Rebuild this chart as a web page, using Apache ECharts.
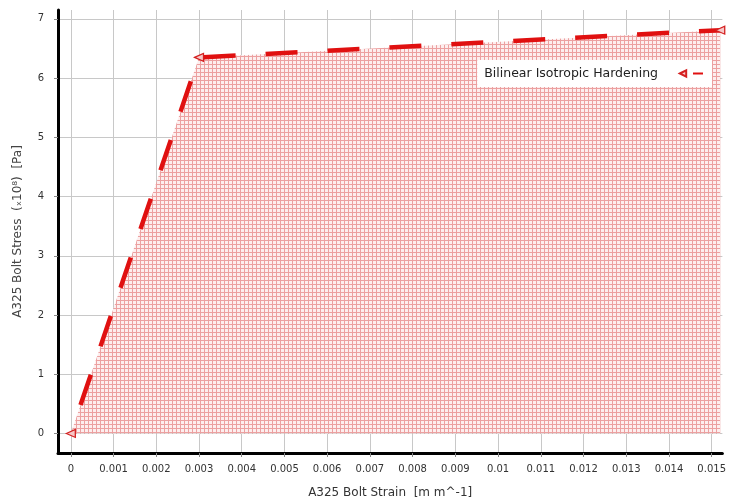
<!DOCTYPE html>
<html><head><meta charset="utf-8">
<script src="https://cdn.jsdelivr.net/npm/echarts@6/dist/echarts.min.js"></script>
<style>html,body{margin:0;padding:0;background:#fff}#c{width:729px;height:504px}</style>
</head><body><div id="c"></div>
<script>
const strain = [0, 0.003, 0.0152];
const stress = [0, 6.35, 6.81];
const seriesName = 'Bilinear Isotropic Hardening';
const xName = 'A325 Bolt Strain  [m m^-1]';
const yName = 'A325 Bolt Stress  (\u209310\u2078)  [Pa]';

const pc = document.createElement('canvas');
pc.width = 4; pc.height = 4;
const g = pc.getContext('2d');
g.fillStyle = 'rgb(253,238,238)'; g.fillRect(0,0,4,4);
g.fillStyle = 'rgb(236,160,160)'; g.fillRect(0,0,4,1); g.fillRect(0,0,1,4);

const chart = echarts.init(document.getElementById('c'));
const tri = 'path://M0,5 L10,0 L10,10 Z';
chart.setOption({
  animation: false,
  grid: {left: 58, right: 4, top: 10, bottom: 47},
  legend: {
    right: 17, top: 60, orient: 'horizontal', align: 'right',
    backgroundColor: '#fff', padding: [7, 8, 7, 7],
    itemWidth: 40, itemHeight: 8, itemGap: 6,
    textStyle: {fontFamily: 'DejaVu Sans', fontSize: 12.5, color: '#222'},
    data: [seriesName]
  },
  xAxis: {
    type: 'value', min: -0.0003, max: 0.01525, splitNumber: 15,
    name: xName, nameLocation: 'middle', nameGap: 34,
    nameTextStyle: {fontFamily: 'DejaVu Sans', fontSize: 12, color: '#333'},
    axisLine: {show: true, onZero: false, lineStyle: {color: '#000', width: 3}},
    axisTick: {show: true, length: 4, lineStyle: {color: '#888'}},
    axisLabel: {showMinLabel: false, showMaxLabel: false, margin: 11,
      fontFamily: 'DejaVu Sans', fontSize: 10, color: '#333'},
    splitLine: {show: true, showMinLine: false, showMaxLine: false, lineStyle: {color: '#c8c8c8', width: 1}}
  },
  yAxis: {
    type: 'value', min: -0.33, max: 7.15, splitNumber: 7,
    name: yName, nameLocation: 'middle', nameGap: 34,
    nameTextStyle: {fontFamily: 'DejaVu Sans', fontSize: 12, color: '#444'},
    axisLine: {show: true, onZero: false, lineStyle: {color: '#000', width: 3}},
    axisTick: {show: true, length: 4, lineStyle: {color: '#888'}},
    axisLabel: {showMinLabel: false, showMaxLabel: false, margin: 14,
      fontFamily: 'DejaVu Sans', fontSize: 10, color: '#333'},
    splitLine: {show: true, showMinLine: false, showMaxLine: false, lineStyle: {color: '#c8c8c8', width: 1}}
  },
  series: [{
    name: seriesName, type: 'line',
    data: strain.map((x, i) => [x, stress[i]]),
    symbol: tri, symbolSize: [9, 8], showAllSymbol: true,
    itemStyle: {color: '#f7c8c8', borderColor: '#d42020', borderWidth: 1.2},
    lineStyle: {color: '#e01010', width: 4.5, type: [32, 30], dashOffset: 32},
    areaStyle: {color: {image: pc, repeat: 'repeat'}, opacity: 1},
    clip: false
  }]
});
</script></body></html>
